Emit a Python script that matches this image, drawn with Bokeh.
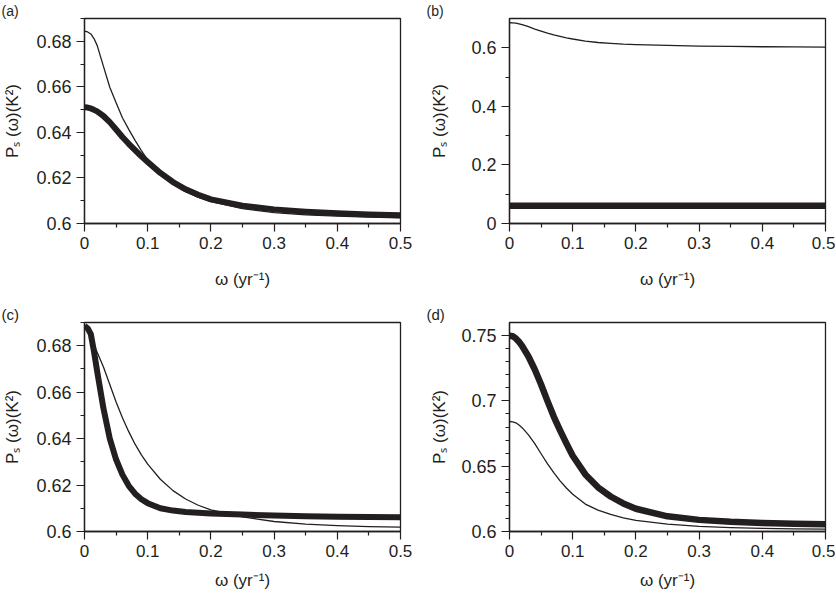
from bokeh.plotting import figure
from bokeh.layouts import column, row
from bokeh.models import Range1d, FixedTicker, CustomJSTickFormatter
from bokeh.embed import file_html
from bokeh.resources import INLINE

# ---- data ----
omega = [0, 0.005, 0.01, 0.015, 0.02, 0.03, 0.04, 0.05, 0.06, 0.07, 0.08, 0.09,
         0.10, 0.12, 0.14, 0.16, 0.18, 0.20, 0.25, 0.30, 0.35, 0.40, 0.45, 0.50]

thin_a = [0.6845, 0.6841, 0.6832, 0.6812, 0.6782, 0.6690, 0.6598, 0.6530, 0.6464, 0.6413,
          0.6365, 0.6320, 0.6278, 0.6220, 0.6175, 0.6140, 0.6115, 0.6096, 0.6065, 0.6048,
          0.6038, 0.6032, 0.6028, 0.6025]
thick_a = [0.6510, 0.6509, 0.6505, 0.6499, 0.6492, 0.6472, 0.6445, 0.6413, 0.6380, 0.6350,
           0.6322, 0.6295, 0.6270, 0.6222, 0.6182, 0.6150, 0.6126, 0.6106, 0.6078, 0.6062,
           0.6052, 0.6045, 0.6040, 0.6036]

thin_b = [0.6855, 0.6850, 0.6840, 0.6820, 0.6790, 0.6720, 0.6640, 0.6570, 0.6500, 0.6440,
          0.6390, 0.6340, 0.6300, 0.6230, 0.6180, 0.6150, 0.6125, 0.6110, 0.6080, 0.6060,
          0.6045, 0.6035, 0.6030, 0.6025]
omega_b_thick = [0, 0.5]
thick_b = [0.061, 0.061]

thin_c = [0.6885, 0.6865, 0.6838, 0.6803, 0.6772, 0.6708, 0.6633, 0.6558, 0.6490, 0.6430,
          0.6376, 0.6330, 0.6290, 0.6225, 0.6176, 0.6140, 0.6113, 0.6093, 0.6063, 0.6043,
          0.6032, 0.6025, 0.6021, 0.6019]
thick_c = [0.6885, 0.6875, 0.6850, 0.6775, 0.6690, 0.6530, 0.6400, 0.6310, 0.6245, 0.6197,
           0.6163, 0.6139, 0.6122, 0.6100, 0.6090, 0.6084, 0.6081, 0.6078, 0.6073, 0.6069,
           0.6066, 0.6064, 0.6062, 0.6061]

thin_d = [0.6842, 0.6840, 0.6832, 0.6815, 0.6795, 0.6740, 0.6672, 0.6595, 0.6520, 0.6450,
          0.6388, 0.6333, 0.6285, 0.6210, 0.6163, 0.6132, 0.6105, 0.6085, 0.6057, 0.6040,
          0.6030, 0.6024, 0.6020, 0.6018]
thick_d = [0.7500, 0.7495, 0.7478, 0.7452, 0.7420, 0.7340, 0.7240, 0.7125, 0.7000, 0.6880,
           0.6775, 0.6675, 0.6580, 0.6437, 0.6338, 0.6268, 0.6215, 0.6174, 0.6116, 0.6089,
           0.6074, 0.6066, 0.6060, 0.6056]

x_major = [0, 0.1, 0.2, 0.3, 0.4, 0.5]
x_minor = [0.05, 0.15, 0.25, 0.35, 0.45]
yac_major = [0.6, 0.62, 0.64, 0.66, 0.68]
yac_minor = [0.61, 0.63, 0.65, 0.67, 0.69]
yb_major = [0, 0.2, 0.4, 0.6]
yb_minor = [0.1, 0.3, 0.5]
yd_major = [0.6, 0.65, 0.7, 0.75]
yd_minor = [0.61, 0.62, 0.63, 0.64, 0.66, 0.67, 0.68, 0.69, 0.71, 0.72, 0.73, 0.74]

panel_labels = ["(a)", "(b)", "(c)", "(d)"]
x_label = "ω (yr⁻¹)"
y_label = "Pₛ (ω)(K²)"

INK = "#231f20"
FONT = "Liberation Sans"
fmt_code = "return String(Number(tick.toFixed(3)));"


def panel(name, thin_y, thick_x, thick_y, yr, ymaj, ymin, width, height,
          btop, bbot, bright, ylab_stand, xlab_stand, thick_w, title_size):
    p = figure(width=width, height=height, output_backend="svg", toolbar_location=None,
               x_range=Range1d(0, 0.5), y_range=Range1d(*yr),
               min_border_left=83, min_border_right=bright,
               min_border_top=btop, min_border_bottom=bbot)
    p.grid.visible = False
    p.outline_line_color = INK
    p.outline_line_width = 1.3
    p.outline_line_alpha = 1.0
    p.background_fill_color = "white"
    p.border_fill_color = "white"

    p.title.text = name
    p.title.align = "left"
    p.title.offset = -83
    p.title.standoff = 0
    p.title.text_font = FONT
    p.title.text_font_size = title_size
    p.title.text_font_style = "normal"
    p.title.text_color = INK

    p.line(omega, thin_y, line_color=INK, line_width=1.3, line_join="round")
    p.line(thick_x, thick_y, line_color=INK, line_width=thick_w, line_join="round")

    p.xaxis.ticker = FixedTicker(ticks=x_major, minor_ticks=x_minor)
    p.yaxis.ticker = FixedTicker(ticks=ymaj, minor_ticks=ymin)
    for ax in (p.xaxis[0], p.yaxis[0]):
        ax.formatter = CustomJSTickFormatter(code=fmt_code)
        ax.axis_line_color = INK
        ax.axis_line_width = 1.3
        ax.major_tick_line_color = INK
        ax.minor_tick_line_color = INK
        ax.major_tick_line_width = 1.2
        ax.minor_tick_line_width = 1.2
        ax.major_tick_out = 8
        ax.major_tick_in = 0
        ax.minor_tick_out = 4
        ax.minor_tick_in = 0
        ax.major_label_text_font = FONT
        ax.major_label_text_color = INK
        ax.major_label_standoff = 5
        ax.axis_label_text_font = FONT
        ax.axis_label_text_font_size = "17px"
        ax.axis_label_text_font_style = "normal"
        ax.axis_label_text_color = INK
    p.xaxis.major_label_text_font_size = "17px"
    p.yaxis.major_label_text_font_size = "18px"
    p.xaxis.axis_label = x_label
    p.yaxis.axis_label = y_label
    p.xaxis.axis_label_standoff = xlab_stand
    p.yaxis.axis_label_standoff = ylab_stand
    return p


pa = panel(panel_labels[0], thin_a, omega, thick_a, (0.6, 0.69), yac_major, yac_minor,
           426, 300, 14, 77, 26, 11, 18, 6, "14px")
pb = panel(panel_labels[1], thin_b, omega_b_thick, thick_b, (0.0, 0.7), yb_major, yb_minor,
           409, 300, 14, 77, 10, 19, 18, 6.5, "14px")
pc = panel(panel_labels[2], thin_c, omega, thick_c, (0.6, 0.69), yac_major, yac_minor,
           426, 292, 22, 61, 26, 11, 11, 6, "15px")
pd = panel(panel_labels[3], thin_d, omega, thick_d, (0.6, 0.76), yd_major, yd_minor,
           409, 292, 22, 61, 10, 9, 11, 6.5, "15px")

layout = column(row(pa, pb), row(pc, pd))
open("out.html", "w").write(file_html(layout, INLINE))
